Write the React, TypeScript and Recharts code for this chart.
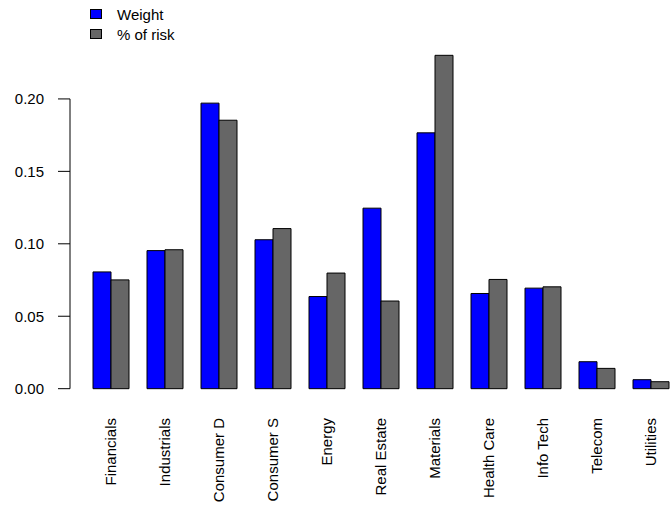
import React from 'react';
import { BarChart, Bar, XAxis, YAxis, Legend, ReferenceLine } from 'recharts';

const sectors = [
  'Financials',
  'Industrials',
  'Consumer D',
  'Consumer S',
  'Energy',
  'Real Estate',
  'Materials',
  'Health Care',
  'Info Tech',
  'Telecom',
  'Utilities',
];

const weight = [0.0806, 0.0953, 0.1971, 0.1028, 0.0636, 0.1246, 0.1766, 0.0657, 0.0694, 0.0186, 0.0062];
const riskShare = [0.0751, 0.0959, 0.1853, 0.1105, 0.0798, 0.0605, 0.2301, 0.0754, 0.0703, 0.014, 0.0048];

const yTicks = [0, 0.05, 0.1, 0.15, 0.2];

const BLUE = '#0000ff';
const GRAY = '#666666';
const FONT = '"Liberation Sans", Arial, Helvetica, sans-serif';

const data = sectors.map((name, i) => ({ name, weight: weight[i], risk: riskShare[i] }));

function SectorTick(props: any) {
  const { x, y, payload } = props;
  return (
    <text
      x={x}
      y={y + 16}
      transform={`rotate(-90, ${x}, ${y + 16})`}
      textAnchor="end"
      dy="0.36em"
      fontSize={15}
      fill="#000"
    >
      {payload.value}
    </text>
  );
}

function LegendBox() {
  const items = [
    { label: 'Weight', color: BLUE },
    { label: '% of risk', color: GRAY },
  ];
  return (
    <div style={{ fontSize: 15, color: '#000' }}>
      {items.map((it) => (
        <div key={it.label} style={{ display: 'flex', alignItems: 'center', height: 20 }}>
          <span
            style={{
              display: 'inline-block',
              width: 12,
              height: 10,
              boxSizing: 'border-box',
              border: '1px solid #000',
              background: it.color,
              marginRight: 15,
            }}
          />
          <span>{it.label}</span>
        </div>
      ))}
    </div>
  );
}

export default function App() {
  return (
    <div
      style={{
        position: 'absolute',
        left: 0,
        top: 0,
        width: 671,
        height: 512,
        overflow: 'hidden',
        background: '#fff',
        fontFamily: FONT,
      }}
    >
      <BarChart
        width={680}
        height={512}
        data={data}
        margin={{ top: 42, right: 2, bottom: 0, left: 0 }}
        barGap={0}
        barSize={18}
      >
        <XAxis
          dataKey="name"
          interval={0}
          height={110}
          axisLine={false}
          tickLine={false}
          tickSize={0}
          tickMargin={0}
          padding={{ left: 14, right: 0 }}
          tick={<SectorTick />}
        />
        <XAxis xAxisId="n" type="number" domain={[0, 1]} hide />
        <YAxis
          width={70}
          type="number"
          domain={[-0.0092, 0.2393]}
          allowDataOverflow
          ticks={yTicks}
          tickFormatter={(v: number) => v.toFixed(2)}
          axisLine={false}
          tickLine={{ stroke: '#000' }}
          tickSize={12}
          tickMargin={14}
          tick={{ fill: '#000', fontSize: 15 }}
        />
        <ReferenceLine
          xAxisId="n"
          segment={[
            { x: 0, y: 0 },
            { x: 0, y: 0.2 },
          ]}
          stroke="#000"
          strokeWidth={1}
        />
        <Legend
          layout="vertical"
          align="center"
          verticalAlign="middle"
          content={<LegendBox />}
          wrapperStyle={{ left: 90, top: 4, width: 120, height: 40 }}
        />
        <Bar dataKey="weight" name="Weight" fill={BLUE} stroke="#000" strokeWidth={1} isAnimationActive={false} />
        <Bar dataKey="risk" name="% of risk" fill={GRAY} stroke="#000" strokeWidth={1} isAnimationActive={false} />
      </BarChart>
    </div>
  );
}
